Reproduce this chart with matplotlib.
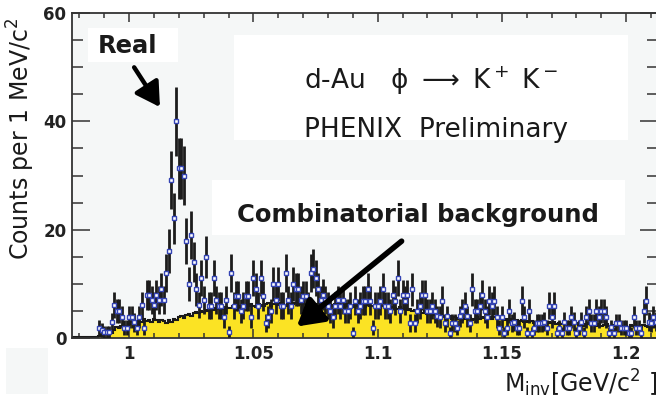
"""
Espectro de masa invariante K+K- (d-Au, PHENIX preliminar):
datos reales con barras de error sobre el fondo combinatorio.
"""

import matplotlib
matplotlib.use("Agg")
import matplotlib.pyplot as plt
import numpy as np
from matplotlib.patches import Rectangle

# ── Datos (bins de 1 MeV) ──────────────────────────────────────────────
M_INICIO = 0.988
CUENTAS = [
    1.9, 1.5, 1.1, 1.1, 1.1, 2.9, 6.1, 5.0, 5.0, 3.9,      # 0.988
    1.9, 1.9, 3.9, 3.9, 2.9, 1.9, 3.9, 6.1, 1.9, 7.9,      # 0.998
    7.9, 7.0, 6.1, 7.9, 7.0, 9.0, 7.0, 12.0, 16.1, 29.2,   # 1.008
    22.1, 40.0, 31.3, 31.3, 30.0, 17.9, 10.0, 19.0, 14.0, 9.0,  # 1.018
    6.1, 11.1, 7.0, 15.0, 6.0, 6.0, 11.1, 7.0, 6.0, 6.0,   # 1.028
    3.9, 7.0, 1.2, 12.0, 6.0, 7.8, 7.8, 5.0, 6.0, 7.8,     # 1.038
    7.8, 3.9, 11.1, 9.0, 6.0, 11.1, 7.8, 2.8, 3.9, 5.0,    # 1.048
    9.9, 7.0, 9.9, 6.0, 6.0, 12.0, 7.0, 6.0, 9.9, 9.0,     # 1.058
    9.0, 7.0, 7.8, 7.8, 6.0, 12.0, 12.8, 11.1, 9.0, 7.0,   # 1.068
    8.0, 7.0, 6.0, 5.0, 3.9, 6.0, 7.0, 6.0, 7.0, 4.9,      # 1.078
    4.9, 6.0, 1.0, 6.9, 5.0, 6.0, 6.9, 6.9, 9.0, 6.9,      # 1.088
    1.9, 6.0, 6.0, 6.9, 9.0, 6.0, 6.0, 4.9, 7.9, 6.9,      # 1.098
    11.1, 4.9, 7.9, 6.9, 7.9, 2.8, 9.0, 2.8, 4.9, 6.0,     # 1.108
    7.9, 7.9, 4.9, 4.9, 6.0, 5.0, 4.0, 3.9, 6.9, 2.8,      # 1.118
    4.0, 1.0, 2.8, 2.8, 1.9, 4.0, 4.9, 6.0, 4.0, 2.8,      # 1.128
    9.0, 4.9, 4.9, 6.0, 7.9, 5.0, 3.9, 6.9, 6.0, 6.9,      # 1.138
    3.9, 1.9, 3.9, 1.0, 1.9, 4.9, 2.8, 3.0, 1.9, 1.9,      # 1.148
    6.9, 3.9, 1.0, 4.9, 1.0, 1.9, 2.8, 2.8, 2.8, 3.0,      # 1.158
    1.9, 6.0, 3.9, 6.0, 1.0, 1.9, 1.0, 3.0, 1.9, 1.9,      # 1.168
    3.9, 3.0, 1.0, 1.9, 3.0, 1.0, 3.9, 4.9, 2.8, 2.8,      # 1.178
    4.9, 3.9, 4.9, 4.9, 3.9, 1.0, 2.0, 1.0, 2.8, 2.8,      # 1.188
    1.9, 1.9, 1.9, 1.0, 1.0, 3.9, 1.9, 1.9, 1.0, 4.9,      # 1.198
    6.9, 3.0, 2.8, 3.9, 3.0,                                # 1.208
]

FONDO_INICIO = 0.977
FONDO = [
    0.2, 0.2, 0.2, 0.2, 0.2, 0.2, 0.2, 0.2, 0.2, 0.2, 0.2,  # 0.977
    0.3, 0.5, 0.8, 1.0, 1.2, 1.0, 1.5, 2.0, 1.8, 2.2,       # 0.988
    2.0, 2.3, 2.6, 3.0, 2.8, 3.2, 3.4, 3.0, 3.5, 3.2,       # 0.998
    3.4, 3.0, 3.6, 3.3, 3.0, 3.4, 3.1, 2.8, 3.3, 3.0,       # 1.008
    3.5, 3.3, 3.8, 4.0, 3.7, 4.2, 4.4, 4.1, 4.6, 4.8,       # 1.018
    4.6, 5.0, 4.8, 5.2, 5.0, 5.3, 5.1, 5.5, 5.3, 5.6,       # 1.028
    5.4, 5.8, 5.6, 5.5, 5.9, 5.7, 6.0, 5.8, 5.6, 6.1,       # 1.038
    5.9, 6.2, 6.0, 5.8, 6.3, 6.1, 5.9, 6.2, 6.4, 6.0,       # 1.048
    6.3, 6.5, 6.1, 6.4, 6.2, 6.0, 6.3, 6.5, 6.2, 6.4,       # 1.058
    6.1, 6.3, 6.6, 6.2, 6.0, 6.4, 6.2, 5.9, 6.3, 6.1,       # 1.068
    6.0, 6.2, 5.8, 6.1, 5.9, 6.2, 6.0, 5.8, 6.1, 5.9,       # 1.078
    6.2, 6.0, 5.8, 6.1, 5.9, 6.3, 6.0, 5.7, 6.1, 5.9,       # 1.088
    6.0, 5.8, 6.1, 5.6, 5.9, 5.7, 6.0, 5.5, 5.8, 5.6,       # 1.098
    5.4, 5.7, 5.3, 5.5, 5.1, 5.4, 5.0, 5.2, 4.8, 5.0,       # 1.108
    4.7, 4.9, 4.5, 4.7, 4.3, 4.5, 4.1, 4.2, 3.9, 4.1,       # 1.118
    3.8, 4.0, 3.6, 3.8, 3.5, 3.7, 3.4, 3.6, 3.5, 3.7,       # 1.128
    3.4, 3.6, 3.8, 3.5, 3.9, 3.7, 4.0, 3.8, 3.6, 3.9,       # 1.138
    3.7, 3.5, 3.8, 3.4, 3.6, 3.3, 3.5, 3.2, 3.4, 3.1,       # 1.148
    3.3, 3.0, 3.2, 2.9, 3.1, 2.8, 3.0, 3.2, 2.9, 3.1,       # 1.158
    2.8, 3.0, 2.7, 2.9, 2.6, 2.8, 2.5, 2.7, 2.9, 2.6,       # 1.168
    2.8, 2.5, 2.7, 2.4, 2.6, 2.3, 2.5, 2.7, 2.4, 2.6,       # 1.178
    2.3, 2.5, 2.2, 2.4, 2.6, 2.3, 2.1, 2.4, 2.2, 2.5,       # 1.188
    2.2, 2.0, 2.3, 2.1, 2.4, 2.2, 2.0, 2.3, 2.1, 2.4,       # 1.198
    2.2, 2.0, 2.3, 2.1, 2.2,                                 # 1.208
]

X_TICKS = [1.0, 1.05, 1.1, 1.15, 1.2]
X_TICK_LABELS = ["1", "1.05", "1.1", "1.15", "1.2"]
Y_TICKS = [0, 20, 40, 60]

ANCHO, ALTO = 656, 401


def px(x, y):
    """Pixel de la imagen (origen arriba-izquierda) -> fracción de figura."""
    return x / ANCHO, 1 - y / ALTO


def main():
    plt.rcParams["font.family"] = "DejaVu Sans"
    plt.rcParams["mathtext.fontset"] = "dejavusans"

    fig = plt.figure(figsize=(ANCHO / 100, ALTO / 100), dpi=100)
    fig.patch.set_facecolor("white")

    x0, y1 = px(72, 13)
    _, y0 = px(72, 338)
    ax = fig.add_axes([x0, y0, 1.003 - x0, y1 - y0])
    ax.set_facecolor("#f5f7f7")

    cuentas = np.array(CUENTAS)
    m = M_INICIO + np.arange(len(cuentas)) * 0.001
    fondo = np.array(FONDO)
    bordes = FONDO_INICIO - 0.0005 + np.arange(len(fondo) + 1) * 0.001

    # Fondo combinatorio
    ax.stairs(fondo, bordes, fill=True, color="#fbe324", zorder=1)
    ax.stairs(fondo, bordes, color="#1a1a1a", lw=1.5, zorder=2)

    # Datos reales
    ax.errorbar(m, cuentas, yerr=np.sqrt(cuentas), fmt="none",
                ecolor="#1c1c1c", elinewidth=2.0, zorder=3)
    ax.plot(m, cuentas, "s", ms=3.0, mfc="white", mec="#3444b4",
            mew=1.0, zorder=4)

    ax.set_xlim(0.977, 1.2128)
    ax.set_ylim(0, 60)

    ax.set_xticks(X_TICKS)
    ax.set_xticklabels(X_TICK_LABELS)
    ax.set_xticks(np.arange(0.98, 1.215, 0.01), minor=True)
    ax.set_yticks(Y_TICKS)
    ax.set_yticks(np.arange(0, 61, 5), minor=True)

    ax.tick_params(which="both", direction="in", top=True, right=True,
                   color="#333333", width=1.1)
    ax.tick_params(axis="x", which="major", length=6.5, pad=5)
    ax.tick_params(axis="x", which="minor", length=3.6)
    ax.tick_params(axis="y", which="major", length=13, pad=4)
    ax.tick_params(axis="y", which="minor", length=8)
    for lab in ax.get_xticklabels() + ax.get_yticklabels():
        lab.set_fontweight("bold")
        lab.set_fontsize(12)
        lab.set_color("#222222")
    for sp in ax.spines.values():
        sp.set_color("#333333")
        sp.set_linewidth(1.3)

    # Etiquetas de ejes
    fig.text(*px(21, 139), r"Counts per 1 MeV/c$^2$", rotation=90,
             ha="center", va="center", fontsize=17, color="#1a1a1a")
    fig.text(*px(504, 392), r"M$_{\mathrm{inv}}$[GeV/c$^2$ ]",
             ha="left", va="baseline", fontsize=17, color="#1a1a1a")

    # Recuadros blancos con texto
    cajas = [(88, 28, 178, 62), (234, 35, 628, 140), (212, 180, 625, 235)]
    for xa, ya, xb, yb in cajas:
        (fx0, fy1), (fx1, fy0) = px(xa, ya), px(xb, yb)
        ax.add_patch(Rectangle((fx0, fy0), fx1 - fx0, fy1 - fy0,
                               transform=fig.transFigure, facecolor="white",
                               edgecolor="none", zorder=5))

    fig.text(*px(127, 46), "Real", ha="center", va="center",
             fontsize=17.5, fontweight="bold", color="#1a1a1a", zorder=6)
    fig.text(*px(304, 81), "d-Au   \u03d5 $\\longrightarrow$ K$^+$ K$^-$",
             ha="left", va="center", fontsize=19, color="#1a1a1a", zorder=6)
    fig.text(*px(304, 130), "PHENIX  Preliminary", ha="left", va="center",
             fontsize=19, color="#1a1a1a", zorder=6)
    fig.text(*px(418, 215), "Combinatorial background", ha="center",
             va="center", fontsize=17.5, fontweight="bold",
             color="#1a1a1a", zorder=6)

    # Flechas
    ax.annotate("", xy=(1.0130, 42.2), xytext=(1.0014, 50.4),
                arrowprops=dict(arrowstyle="-|>,head_length=0.6,head_width=0.35",
                                lw=3.2, color="black", mutation_scale=24),
                zorder=7)
    ax.annotate("", xy=(1.0666, 1.8), xytext=(1.1105, 18.2),
                arrowprops=dict(arrowstyle="-|>,head_length=0.6,head_width=0.35",
                                lw=4.0, color="black", mutation_scale=26),
                zorder=7)

    # Recuadro gris abajo a la izquierda
    (gx0, gy1), (gx1, gy0) = px(6, 348), px(48, 394)
    fig.patches.append(Rectangle((gx0, gy0), gx1 - gx0, gy1 - gy0,
                                 transform=fig.transFigure,
                                 facecolor="#f5f7f7", edgecolor="none"))

    fig.savefig("out.png", dpi=100)
    plt.close(fig)


if __name__ == "__main__":
    main()
